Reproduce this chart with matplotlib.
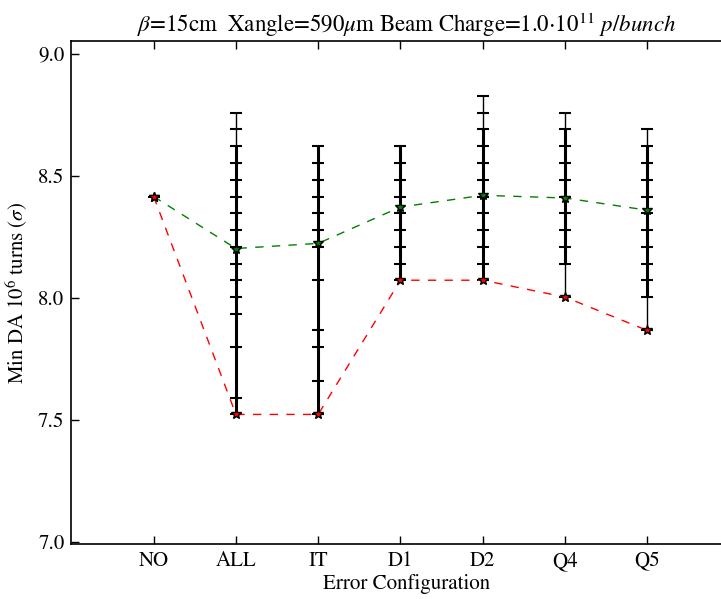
import matplotlib
matplotlib.use('Agg')
import matplotlib.pyplot as plt

plt.rcParams['font.family'] = ['STIXGeneral', 'DejaVu Serif']
plt.rcParams['mathtext.fontset'] = 'stix'

categories = ['NO', 'ALL', 'IT', 'D1', 'D2', 'Q4', 'Q5']

# min DA of every seed, per error configuration
da_no = [8.414]
da_all = [8.757, 8.689, 8.620, 8.551, 8.483, 8.414, 8.345, 8.277, 8.208,
          8.139, 8.071, 8.002, 7.933, 7.796, 7.590, 7.521]
da_it = [8.620, 8.551, 8.483, 8.414, 8.345, 8.277, 8.208, 8.071, 7.865,
         7.796, 7.659, 7.521]
da_d1 = [8.620, 8.551, 8.483, 8.414, 8.345, 8.277, 8.208, 8.139, 8.071]
da_d2 = [8.826, 8.757, 8.689, 8.620, 8.551, 8.483, 8.414, 8.345, 8.277,
         8.208, 8.139, 8.071]
da_q4 = [8.757, 8.689, 8.620, 8.551, 8.483, 8.414, 8.345, 8.277, 8.208,
         8.139, 8.002]
da_q5 = [8.689, 8.620, 8.551, 8.483, 8.414, 8.345, 8.277, 8.208, 8.139,
         8.071, 8.002, 7.865]
seeds = [da_no, da_all, da_it, da_d1, da_d2, da_q4, da_q5]

# range where most seeds overlap (drawn heavier)
core_lo = [8.414, 7.521, 7.521, 8.071, 8.071, 8.139, 8.002]
core_hi = [8.414, 8.620, 8.620, 8.620, 8.689, 8.689, 8.620]

mean_da = [8.414, 8.201, 8.222, 8.371, 8.419, 8.408, 8.358]
min_da = [8.414, 7.521, 7.521, 8.071, 8.071, 8.002, 7.865]

x = list(range(1, len(categories) + 1))

fig = plt.figure(figsize=(7.21, 5.99), dpi=100)
ax = fig.add_axes([0.099, 0.091, 0.93, 0.840])

for xi, vals, lo, hi in zip(x, seeds, core_lo, core_hi):
    ax.plot([xi] * len(vals), vals, color='k', lw=1, marker='_', ms=8, mew=1.5)
    ax.plot([xi, xi], [lo, hi], color='k', lw=2.2, solid_capstyle='butt')

ax.plot(x, mean_da, color=(0, 0.5, 0), ls='--', dashes=(6, 6), lw=1,
        marker='*', ms=7, mfc=(0, 0.5, 0), mec='k', mew=1)
ax.plot(x, min_da, color='r', ls='--', dashes=(6, 6), lw=1,
        marker='*', ms=7, mfc='r', mec='k', mew=1)

ax.set_xlim(0, 8.15)
ax.set_ylim(6.988, 9.05)
ax.set_xticks(x)
ax.set_xticklabels(categories)
ax.set_yticks([7.0, 7.5, 8.0, 8.5, 9.0])
ax.set_yticklabels(['7.0', '7.5', '8.0', '8.5', '9.0'])
ax.tick_params(direction='in', top=True, right=True, length=6, width=1,
               labelsize=15, pad=5)
for s in ax.spines.values():
    s.set_linewidth(1.2)

ax.set_xlabel('Error Configuration', fontsize=15, labelpad=2)
ax.set_ylabel(r'Min DA $10^6$ turns $(\sigma)$', fontsize=15, labelpad=6)
ax.set_title(r'$\beta$=15cm  Xangle=590$\mu$m Beam Charge=1.0$\cdot10^{11}$ $p/bunch$',
             fontsize=16.5, pad=7)

fig.savefig('out.png', dpi=100)
